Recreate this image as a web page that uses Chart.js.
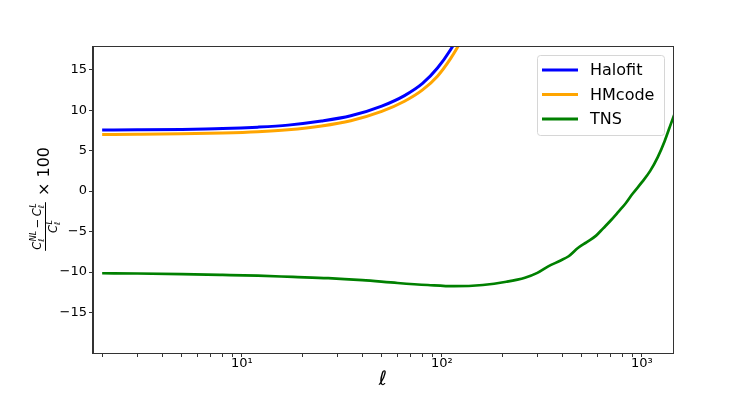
<!DOCTYPE html>
<html>
<head>
<meta charset="utf-8">
<script src="https://cdn.jsdelivr.net/npm/chart.js@4.4.0/dist/chart.umd.min.js"></script>
<style>
  html, body { margin: 0; padding: 0; background: #fff; }
  #wrap { width: 748px; height: 397px; position: relative; }
</style>
</head>
<body>
<div id="wrap"><canvas id="chart"></canvas></div>
<script>
// multipolos para Halofit / HMcode
const ellNL = [2, 3, 5, 8, 12, 17, 25, 35, 50, 65, 80, 95, 110, 125, 140];
const halofit = [7.55, 7.57, 7.62, 7.72, 7.9, 8.15, 8.65, 9.3, 10.5, 11.8, 13.3, 15.2, 17.4, 19.8, 22.5];
const hmcode = [7.0, 7.02, 7.07, 7.17, 7.33, 7.58, 8.05, 8.7, 9.85, 11.1, 12.5, 14.2, 16.3, 18.6, 21.0];

// multipolos para TNS
const ellTNS = [2, 3, 5, 8, 12, 18, 27, 40, 60, 85, 115, 160, 210, 260, 300, 340, 390, 430, 480, 530,
  590, 640, 700, 760, 830, 900, 1000, 1100, 1200, 1300, 1400, 1480];
const tns = [-10.15, -10.18, -10.25, -10.35, -10.45, -10.6, -10.75, -11.0, -11.35, -11.6, -11.75, -11.6,
  -11.2, -10.7, -10.1, -9.3, -8.6, -8.05, -7.0, -6.3, -5.5, -4.6, -3.6, -2.6, -1.5, -0.3, 1.1, 2.5,
  4.2, 6.2, 8.4, 10.0];

const seriesNames = ['Halofit', 'HMcode', 'TNS'];
const seriesColors = ['#0000ff', '#ffa500', '#008000'];
const yTicks = [-15, -10, -5, 0, 5, 10, 15];
const xMajor = [10, 100, 1000];
const xMajorLabels = ['10\u00b9', '10\u00b2', '10\u00b3'];

const FONT = '"DejaVu Sans"';

function toPoints(xs, ys) {
  return xs.map((x, i) => ({ x: x, y: ys[i] }));
}

// eje y con fracción en modo texto matemático
function drawYTitle(ctx) {
  ctx.save();
  ctx.translate(45.5, 201);
  ctx.rotate(-Math.PI / 2);
  ctx.fillStyle = '#000';
  ctx.textAlign = 'left';
  ctx.textBaseline = 'alphabetic';
  const big = 11.5, small = 8;

  function cl(x, base, sup, draw) {
    ctx.font = `italic ${big}px ${FONT}`;
    const w = ctx.measureText('C').width;
    if (draw) ctx.fillText('C', x, base);
    ctx.font = `italic ${small}px ${FONT}`;
    const ws = ctx.measureText(sup).width;
    const wl = ctx.measureText('\u2113').width;
    if (draw) {
      ctx.fillText(sup, x + w + 0.5, base - 5);
      ctx.fillText('\u2113', x + w, base + 2.5);
    }
    return w + Math.max(ws + 0.5, wl);
  }
  function numerator(x, base, draw) {
    let cx = x;
    cx += cl(cx, base, 'NL', draw);
    cx += 2.5;
    ctx.font = `${big}px ${FONT}`;
    if (draw) ctx.fillText('\u2212', cx, base);
    cx += ctx.measureText('\u2212').width + 2.5;
    cx += cl(cx, base, 'L', draw);
    return cx - x;
  }
  const center = -25.5;
  const nw = numerator(0, 0, false);
  numerator(center - nw / 2, -4.5, true);
  const dw = cl(0, 0, 'L', false);
  cl(center - dw / 2, 11.5, 'L', true);

  ctx.strokeStyle = '#000';
  ctx.lineWidth = 1;
  ctx.beginPath();
  ctx.moveTo(center - nw / 2 - 1, 0);
  ctx.lineTo(center + nw / 2 + 1, 0);
  ctx.stroke();

  ctx.font = `16px ${FONT}`;
  ctx.fillText('\u00d7 100', 5, 3.5);
  ctx.restore();
}

const extras = {
  id: 'extras',
  afterDraw(chart) {
    const { ctx, chartArea: a } = chart;
    ctx.save();
    // marco
    ctx.strokeStyle = '#333';
    ctx.lineWidth = 1;
    ctx.strokeRect(Math.round(a.left) - 0.5, Math.round(a.top) - 0.5,
      Math.round(a.right - a.left) + 1, Math.round(a.bottom - a.top) + 1);

    // leyenda
    const bx = 537.5, by = 55.5, bw = 127, bh = 80, r = 3;
    ctx.beginPath();
    ctx.moveTo(bx + r, by);
    ctx.arcTo(bx + bw, by, bx + bw, by + bh, r);
    ctx.arcTo(bx + bw, by + bh, bx, by + bh, r);
    ctx.arcTo(bx, by + bh, bx, by, r);
    ctx.arcTo(bx, by, bx + bw, by, r);
    ctx.closePath();
    ctx.fillStyle = 'rgba(255,255,255,0.8)';
    ctx.fill();
    ctx.strokeStyle = '#d6d6d6';
    ctx.stroke();

    const rows = [70, 94.5, 119];
    ctx.font = `16px ${FONT}`;
    ctx.textBaseline = 'middle';
    ctx.textAlign = 'left';
    seriesNames.forEach((name, i) => {
      ctx.strokeStyle = seriesColors[i];
      ctx.lineWidth = 3;
      ctx.beginPath();
      ctx.moveTo(542, rows[i]);
      ctx.lineTo(578, rows[i]);
      ctx.stroke();
      ctx.fillStyle = '#000';
      ctx.fillText(name, 590, rows[i] + 1);
    });

    // eje x
    ctx.font = `italic 20px ${FONT}`;
    ctx.textAlign = 'center';
    ctx.textBaseline = 'alphabetic';
    ctx.fillStyle = '#000';
    ctx.fillText('\u2113', 383, 385);
    ctx.restore();

    drawYTitle(ctx);
  }
};

const ctx = document.getElementById('chart');

new Chart(ctx, {
  type: 'line',
  data: {
    datasets: [
      { label: seriesNames[0], data: toPoints(ellNL, halofit), borderColor: seriesColors[0], borderWidth: 3 },
      { label: seriesNames[1], data: toPoints(ellNL, hmcode), borderColor: seriesColors[1], borderWidth: 3 },
      { label: seriesNames[2], data: toPoints(ellTNS, tns), borderColor: seriesColors[2], borderWidth: 2.7 }
    ]
  },
  options: {
    responsive: true,
    maintainAspectRatio: false,
    animation: false,
    layout: { padding: { top: 47, right: 75, left: 0, bottom: 0 } },
    datasets: {
      line: {
        pointRadius: 0,
        fill: false,
        cubicInterpolationMode: 'monotone',
        clip: 0
      }
    },
    plugins: {
      legend: { display: false },
      tooltip: { enabled: false }
    },
    scales: {
      x: {
        type: 'logarithmic',
        min: 1.8,
        max: 1430,
        afterBuildTicks: (scale) => {
          const ticks = [];
          for (let d = 1; d <= 1000; d *= 10) {
            for (let m = 1; m <= 9; m++) {
              const v = m * d;
              if (v >= 1.8 && v <= 1430) ticks.push({ value: v, major: m === 1 });
            }
          }
          scale.ticks = ticks;
        },
        afterFit: (scale) => { scale.height = 44; },
        grid: {
          display: true,
          drawOnChartArea: false,
          drawTicks: true,
          tickLength: 4,
          color: '#333'
        },
        border: { display: true, color: '#333' },
        ticks: {
          autoSkip: false,
          maxRotation: 0,
          padding: -1,
          color: '#000',
          font: { family: 'DejaVu Sans', size: 13 },
          callback: (v) => {
            const i = xMajor.indexOf(v);
            return i >= 0 ? xMajorLabels[i] : '';
          }
        }
      },
      y: {
        type: 'linear',
        min: -20,
        max: 17.8,
        afterBuildTicks: (scale) => {
          scale.ticks = yTicks.map(v => ({ value: v }));
        },
        afterFit: (scale) => { scale.width = 93; },
        grid: {
          display: true,
          drawOnChartArea: false,
          drawTicks: true,
          tickLength: 4,
          color: '#333'
        },
        border: { display: true, color: '#333' },
        ticks: {
          padding: 2,
          color: '#000',
          font: { family: 'DejaVu Sans', size: 13 },
          callback: (v) => v < 0 ? '\u2212' + (-v) : String(v)
        }
      }
    }
  },
  plugins: [extras]
});
</script>
</body>
</html>
